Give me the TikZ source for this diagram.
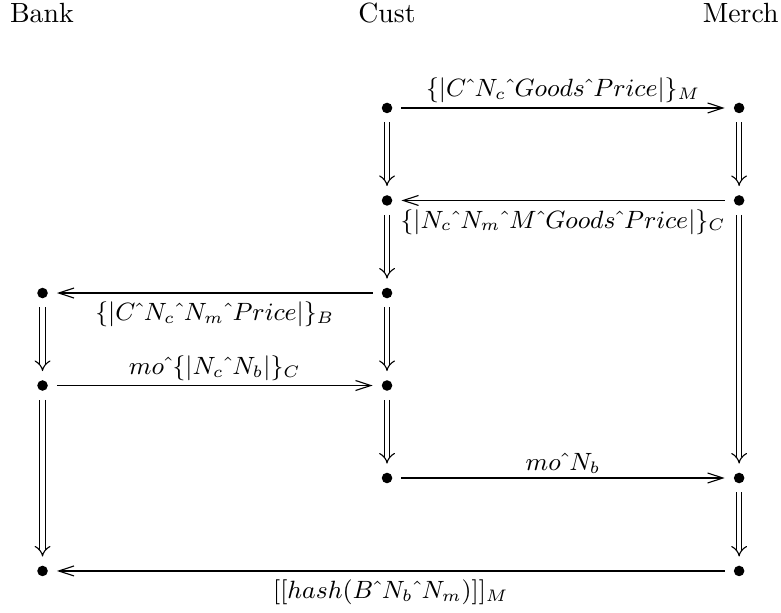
\documentclass[tikz,border=0pt]{standalone}
\usepackage{tikz}
\usetikzlibrary{arrows.meta, positioning}
\tikzset{
    evt/.style={circle, fill=black, minimum size=3.8pt, inner sep=0pt, outer sep=3.3pt},
    strandname/.style={anchor=base, font=\normalsize},
    msg/.style={-{Straight Barb[length=5.5pt, width=3.6pt]}, line width=0.4pt},
    succ/.style={double, double distance=1.6pt, line width=0.4pt, -{Implies}},
    lblup/.style={font=\small, inner sep=1.5pt, above},
    lbldown/.style={font=\small, inner sep=3pt, below},
}
\newcommand{\catop}{\hat{\mkern6mu}}

\begin{document}
\begin{tikzpicture}

    \useasboundingbox (0,0) rectangle (9.88,-7.75);

    % Strand names
    \node[strandname] at (0.53,-0.28) (bank) {Bank};
    \node[strandname] at (4.896,-0.28) (cust) {Cust};
    \node[strandname] at (9.37,-0.28)  (merch) {Merch};

    % Bank strand
    \node[evt] at (0.538,-3.707) (b1) {};
    \node[evt] at (0.538,-4.877) (b2) {};
    \node[evt] at (0.538,-7.223) (b3) {};

    % Customer strand
    \node[evt] at (4.896,-1.366) (c1) {};
    \node[evt] at (4.896,-2.536) (c2) {};
    \node[evt] at (4.896,-3.707) (c3) {};
    \node[evt] at (4.896,-4.877) (c4) {};
    \node[evt] at (4.896,-6.047) (c5) {};

    % Merchant strand
    \node[evt] at (9.35,-1.366) (m1) {};
    \node[evt] at (9.35,-2.536) (m2) {};
    \node[evt] at (9.35,-6.047) (m3) {};
    \node[evt] at (9.35,-7.223) (m4) {};

    % Strand succession
    \foreach \a/\b in {b1/b2,b2/b3,c1/c2,c2/c3,c3/c4,c4/c5,m1/m2,m2/m3,m3/m4}
        \draw[succ] (\a) -- (\b);

    % Messages
    \draw[msg] (c1) -- node[lblup]
        {$\{|C\catop N_c\catop Goods\catop Price|\}_M$} (m1);
    \draw[msg] (m2) -- node[lbldown]
        {$\{|N_c\catop N_m\catop M\catop Goods\catop Price|\}_C$} (c2);
    \draw[msg] (c3) -- node[lbldown]
        {$\{|C\catop N_c\catop N_m\catop Price|\}_B$} (b1);
    \draw[msg] (b2) -- node[lblup]
        {$mo\catop\{|N_c\catop N_b|\}_C$} (c4);
    \draw[msg] (c5) -- node[lblup] {$mo\catop N_b$} (m3);
    \draw[msg] (m4) -- node[lbldown]
        {$[[hash(B\catop N_b\catop N_m)]]_M$} (b3);

\end{tikzpicture}
\end{document}
